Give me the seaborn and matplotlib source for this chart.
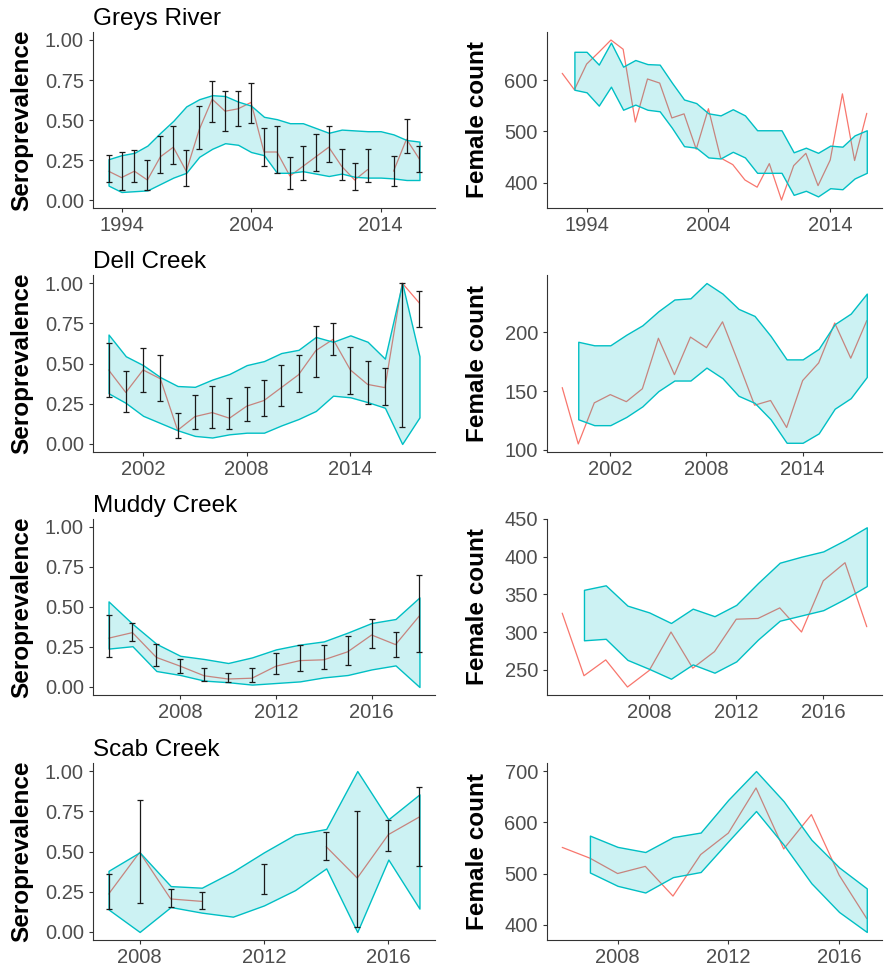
import numpy as np
import pandas as pd
import matplotlib.pyplot as plt
from matplotlib.colors import to_rgba
import seaborn as sns

nan = np.nan

# ---- Greys River ----
gr_years = np.arange(1993, 2018)
gr_mean = [0.18, 0.14, 0.18, 0.125, 0.27, 0.33, 0.18, 0.44, 0.63, 0.555, 0.57, 0.61, 0.30,
           0.30, 0.15, 0.21, 0.27, 0.33, 0.21, 0.125, 0.19, nan, 0.18, 0.38, 0.255]
gr_lo = [0.11, 0.06, 0.11, 0.06, 0.17, 0.225, 0.09, 0.32, 0.49, 0.43, 0.46, 0.48, 0.21,
         0.17, 0.07, 0.125, 0.18, 0.235, 0.125, 0.06, 0.115, nan, 0.09, 0.295, 0.175]
gr_hi = [0.28, 0.30, 0.31, 0.25, 0.40, 0.46, 0.31, 0.59, 0.745, 0.68, 0.68, 0.73, 0.45,
         0.46, 0.27, 0.34, 0.41, 0.46, 0.32, 0.23, 0.32, nan, 0.275, 0.505, 0.34]
gr_upper = [0.255, 0.28, 0.295, 0.34, 0.42, 0.495, 0.585, 0.63, 0.655, 0.65, 0.615, 0.59, 0.52,
            0.505, 0.48, 0.48, 0.45, 0.42, 0.44, 0.435, 0.43, 0.43, 0.41, 0.375, 0.365]
gr_lower = [0.09, 0.05, 0.055, 0.06, 0.10, 0.14, 0.17, 0.27, 0.32, 0.355, 0.345, 0.30, 0.28,
            0.17, 0.17, 0.18, 0.165, 0.15, 0.165, 0.145, 0.14, 0.14, 0.135, 0.125, 0.125]
gr_count_years = np.arange(1992, 2018)
gr_count = [613, 581, 631, 654, 678, 660, 518, 602, 594, 526, 534, 465, 544,
            448, 435, 405, 391, 437, 366, 433, 457, 394, 444, 573, 443, 535]
gr_count_upper = [655, 655, 630, 673, 626, 639, 631, 630, 595, 562, 555, 535, 531,
                  543, 531, 502, 502, 502, 459, 468, 458, 472, 470, 492, 502]
gr_count_lower = [581, 576, 550, 587, 542, 552, 542, 539, 507, 471, 468, 449, 447,
                  460, 449, 419, 419, 419, 376, 384, 373, 389, 387, 408, 419]

# ---- Dell Creek ----
dc_years = np.arange(2000, 2019)
dc_mean = [0.46, 0.32, 0.46, 0.405, 0.085, 0.17, 0.195, 0.16, 0.235, 0.27,
           0.35, 0.43, 0.58, 0.65, 0.46, 0.37, 0.35, 1.00, 0.875]
dc_lo = [0.29, 0.20, 0.32, 0.265, 0.04, 0.095, 0.10, 0.09, 0.145, 0.175,
         0.235, 0.32, 0.415, 0.555, 0.31, 0.25, 0.245, 0.105, 0.725]
dc_hi = [0.625, 0.455, 0.595, 0.55, 0.19, 0.305, 0.36, 0.285, 0.355, 0.395,
         0.49, 0.555, 0.735, 0.75, 0.60, 0.515, 0.47, 1.00, 0.95]
dc_upper = [0.68, 0.545, 0.49, 0.415, 0.36, 0.355, 0.40, 0.435, 0.49, 0.515,
            0.565, 0.585, 0.665, 0.635, 0.675, 0.635, 0.53, 1.00, 0.545]
dc_lower = [0.315, 0.255, 0.175, 0.13, 0.085, 0.05, 0.04, 0.06, 0.07, 0.07,
            0.115, 0.155, 0.205, 0.30, 0.29, 0.26, 0.225, 0.00, 0.165]
dc_count_years = np.arange(1999, 2019)
dc_count = [153, 105, 140, 147, 141, 152, 195, 164, 196, 187,
            209, 174, 138, 142, 119, 159, 174, 208, 178, 210]
dc_count_upper = [192, 189, 189, 198, 206, 218, 228, 229, 242, 233,
                  220, 214, 197, 177, 177, 186, 207, 216, 233]
dc_count_lower = [126, 121, 121, 128, 137, 150, 159, 159, 170, 161,
                  146, 140, 126, 106, 106, 114, 135, 144, 162]

# ---- Muddy Creek ----
mc_years = np.arange(2005, 2019)
mc_mean = [0.305, 0.34, 0.185, 0.13, 0.07, 0.05, 0.055, 0.13, 0.165, 0.17, 0.22, 0.325, 0.265, 0.445]
mc_lo = [0.185, 0.285, 0.13, 0.09, 0.04, 0.03, 0.03, 0.08, 0.10, 0.11, 0.14, 0.245, 0.185, 0.22]
mc_hi = [0.45, 0.40, 0.27, 0.175, 0.12, 0.09, 0.12, 0.215, 0.265, 0.26, 0.32, 0.425, 0.345, 0.70]
mc_upper = [0.535, 0.395, 0.27, 0.195, 0.175, 0.15, 0.185, 0.235, 0.265, 0.285, 0.34, 0.40, 0.425, 0.56]
mc_lower = [0.24, 0.255, 0.10, 0.075, 0.04, 0.03, 0.015, 0.025, 0.035, 0.06, 0.075, 0.11, 0.135, 0.00]
mc_count_years = np.arange(2004, 2019)
mc_count = [325, 242, 263, 227, 249, 300, 252, 274, 317, 318, 332, 300, 368, 392, 307]
mc_count_upper = [356, 362, 335, 326, 312, 331, 321, 336, 365, 392, 400, 407, 422, 439]
mc_count_lower = [289, 291, 263, 251, 238, 257, 246, 261, 290, 315, 322, 329, 344, 361]

# ---- Scab Creek ----
sc_years = np.arange(2007, 2018)
sc_mean = [0.235, 0.495, 0.205, 0.19, nan, 0.33, nan, 0.53, 0.335, 0.605, 0.715]
sc_lo = [0.14, 0.18, 0.155, 0.14, nan, 0.235, nan, 0.45, 0.03, 0.505, 0.41]
sc_hi = [0.36, 0.82, 0.265, 0.25, nan, 0.425, nan, 0.62, 0.75, 0.695, 0.90]
sc_upper = [0.38, 0.495, 0.285, 0.275, 0.375, 0.495, 0.605, 0.64, 1.00, 0.70, 0.855]
sc_lower = [0.14, 0.00, 0.155, 0.12, 0.095, 0.165, 0.26, 0.395, 0.00, 0.45, 0.145]
sc_count_years = np.arange(2006, 2018)
sc_count = [551, 530, 500, 514, 456, 537, 579, 667, 548, 615, 497, 412]
sc_count_upper = [574, 552, 542, 571, 580, 644, 700, 641, 566, 512, 471]
sc_count_lower = [502, 476, 463, 493, 503, 563, 622, 556, 481, 425, 386]

CYAN = "#00BFC4"
RED = "#F8766D"

sns.set_theme(style="ticks")
plt.rcParams["font.family"] = ["Liberation Sans", "DejaVu Sans"]
plt.rcParams.update({
    "axes.edgecolor": "#333333",
    "axes.linewidth": 0.8,
    "xtick.color": "#333333",
    "ytick.color": "#333333",
    "xtick.labelcolor": "#4D4D4D",
    "ytick.labelcolor": "#4D4D4D",
    "xtick.labelsize": 14.5,
    "ytick.labelsize": 14.5,
    "xtick.major.size": 3,
    "ytick.major.size": 3,
    "xtick.major.width": 0.8,
    "ytick.major.width": 0.8,
    "xtick.major.pad": 3,
    "ytick.major.pad": 3.5,
})

W, H = 887, 968
fig = plt.figure(figsize=(W / 100, H / 100), dpi=100)


def px_axes(left, top, right, bottom):
    return fig.add_axes([left / W, 1 - bottom / H, (right - left) / W, (bottom - top) / H])


def expand(lo, hi):
    d = (hi - lo) * 0.05
    return lo - d, hi + d


def band(ax, years, lower, upper):
    ax.fill_between(years, lower, upper, facecolor=to_rgba(CYAN, 0.2),
                    edgecolor=CYAN, linewidth=1.0, zorder=3)


def sero_panel(ax, name, years, mean, lo, hi, upper, lower, xticks):
    df = pd.DataFrame({"year": years, "mean": mean})
    df["seg"] = df["mean"].isna().cumsum()
    df = df.dropna()
    sns.lineplot(data=df, x="year", y="mean", units="seg", estimator=None,
                 color=RED, linewidth=0.9, ax=ax, zorder=2)
    band(ax, years, lower, upper)
    mean = np.asarray(mean)
    ax.errorbar(years, mean, yerr=[mean - np.asarray(lo), np.asarray(hi) - mean],
                fmt="none", ecolor="#1a1a1a", elinewidth=0.9, capsize=2, capthick=0.9, zorder=4)
    ax.set_xlim(*expand(years.min(), years.max()))
    ax.set_ylim(-0.05, 1.05)
    ax.set_yticks([0, 0.25, 0.5, 0.75, 1.0])
    ax.set_yticklabels(["0.00", "0.25", "0.50", "0.75", "1.00"])
    ax.set_xticks(xticks)
    ax.set_title(name, loc="left", fontsize=17.5, color="black", pad=5)
    ax.set_xlabel("")
    ax.set_ylabel("Seroprevalence", fontsize=17.5, fontweight="bold", color="black")
    ax.yaxis.set_label_coords(-0.175, 0.5)
    sns.despine(ax=ax)


def count_panel(ax, years, count, band_years, upper, lower, xticks, yticks):
    df = pd.DataFrame({"year": years, "count": count})
    sns.lineplot(data=df, x="year", y="count", color=RED, linewidth=0.9, ax=ax, zorder=2)
    band(ax, band_years, lower, upper)
    vals = np.concatenate([count, upper, lower])
    ax.set_xlim(*expand(years.min(), years.max()))
    ax.set_ylim(*expand(vals.min(), vals.max()))
    ax.set_xticks(xticks)
    ax.set_yticks(yticks)
    ax.set_xlabel("")
    ax.set_ylabel("Female count", fontsize=17.5, fontweight="bold", color="black")
    ax.yaxis.set_label_coords(-0.172, 0.5)
    sns.despine(ax=ax)


rows = [(32, 208), (275, 452), (519, 695), (763, 940)]

sites = [
    ("Greys River", gr_years, gr_mean, gr_lo, gr_hi, gr_upper, gr_lower,
     gr_count_years, gr_count, gr_count_upper, gr_count_lower,
     [1994, 2004, 2014], [400, 500, 600]),
    ("Dell Creek", dc_years, dc_mean, dc_lo, dc_hi, dc_upper, dc_lower,
     dc_count_years, dc_count, dc_count_upper, dc_count_lower,
     [2002, 2008, 2014], [100, 150, 200]),
    ("Muddy Creek", mc_years, mc_mean, mc_lo, mc_hi, mc_upper, mc_lower,
     mc_count_years, mc_count, mc_count_upper, mc_count_lower,
     [2008, 2012, 2016], [250, 300, 350, 400, 450]),
    ("Scab Creek", sc_years, sc_mean, sc_lo, sc_hi, sc_upper, sc_lower,
     sc_count_years, sc_count, sc_count_upper, sc_count_lower,
     [2008, 2012, 2016], [400, 500, 600, 700]),
]

for (top, bottom), s in zip(rows, sites):
    name, yrs, mean, lo, hi, up, low, cyrs, cnt, cup, clow, xt, yt = s
    ax_l = px_axes(93, top, 435, bottom)
    sero_panel(ax_l, name, yrs, mean, lo, hi, up, low, xt)
    ax_r = px_axes(547, top, 882, bottom)
    count_panel(ax_r, cyrs, np.array(cnt), np.arange(cyrs[0] + 1, cyrs[-1] + 1), cup, clow, xt, yt)

fig.savefig("out.png", dpi=100)
